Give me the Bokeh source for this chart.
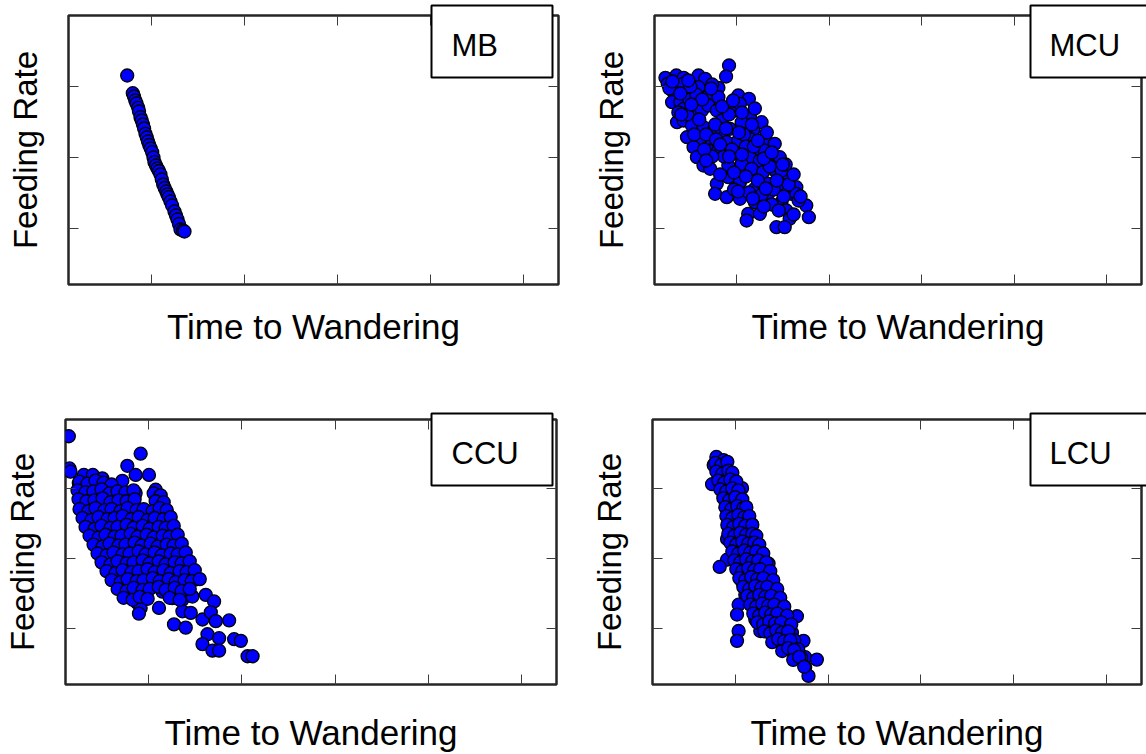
from bokeh.plotting import figure
from bokeh.models import Range1d, FixedTicker, LinearAxis, GridBox, ColumnDataSource
from bokeh.core.properties import value
from bokeh.embed import file_html
from bokeh.resources import INLINE

FONT = "Liberation Sans"

# shared axis extents; tick marks are drawn without labels
time_limits = (0, 490)
feed_limits = (0, 269)
time_ticks = [83, 176, 269, 362, 455]
feed_ticks = [56.5, 127.5, 198.5]

x_title = "Time to Wandering"
y_title = "Feeding Rate"
panel_names = ["MB", "MCU", "CCU", "LCU"]

# ---- MB ----
mb_time = [58.7, 64.3, 65.5, 66.8, 68.0, 69.7, 70.5, 72.0, 73.2, 74.5,
           75.6, 77.0, 78.3, 79.5, 80.8, 82.2, 83.7, 85.0, 86.0, 87.5,
           89.0, 90.5, 92.0, 93.3, 94.7, 96.2, 97.8, 99.0, 100.3, 102.0,
           103.6, 106.0, 107.5, 109.0, 110.5, 112.0, 114.5, 116.0]
mb_feed = [209.0, 191.3, 188.0, 184.0, 181.0, 176.7, 173.0, 167.3, 164.0, 160.0,
           156.0, 150.7, 147.0, 143.0, 139.5, 136.0, 132.3, 127.0, 122.3, 119.0,
           116.0, 113.5, 110.0, 105.0, 100.0, 96.5, 93.0, 90.0, 87.3, 83.0,
           79.0, 73.0, 69.0, 65.0, 60.5, 55.0, 54.0, 53.0]

# ---- MCU ----
mcu_time = [11.0, 13.3, 22.0, 29.3, 44.3, 51.0, 75.0, 72.0, 19.3, 28.3,
            44.3, 54.3, 64.3, 64.3, 84.3, 95.0, 17.7, 26.0, 29.3, 39.3,
            47.7, 54.3, 62.7, 81.0, 86.0, 96.0, 107.7, 22.7, 29.3, 37.7,
            49.3, 67.7, 76.0, 87.7, 99.3, 111.0, 32.7, 46.0, 57.7, 67.7,
            72.7, 84.3, 96.0, 104.3, 111.0, 121.0, 39.3, 42.7, 54.3, 64.3,
            82.7, 96.0, 106.0, 119.3, 126.0, 49.3, 56.0, 74.3, 87.7, 97.7,
            109.3, 122.7, 134.3, 62.7, 74.3, 86.0, 101.0, 114.3, 126.0, 142.7,
            137.7, 61.0, 72.7, 86.0, 101.0, 114.3, 127.7, 142.7, 94.3, 106.0,
            132.7, 136.0, 152.7, 155.3, 92.7, 122.7, 131.0,
            35.0, 42.0, 58.0, 33.0, 45.0, 60.0, 40.0, 52.0, 62.0, 75.0,
            78.0, 70.0, 90.0, 92.0, 100.0, 58.0, 80.0, 92.0, 104.0, 116.0,
            110.0, 128.0, 132.0, 80.0, 95.0, 108.0, 120.0, 135.0, 145.0, 118.0,
            110.0, 125.0, 140.0, 66.0, 50.0, 24.0, 15.0, 36.0,
            18.0, 26.0, 34.0, 48.0, 57.0, 68.0, 79.0, 88.0, 101.0, 113.0,
            27.0, 37.0, 61.0, 72.0, 85.0, 98.0, 118.0, 129.0, 140.0, 104.0,
            88.0, 75.0, 66.0, 52.0, 123.0, 112.0, 99.0, 84.0, 147.0, 130.0]
mcu_feed = [206.7, 200.7, 209.0, 206.7, 209.0, 205.7, 219.0, 208.0, 192.3, 200.7,
            197.3, 188.3, 196.7, 187.3, 189.0, 185.7, 182.3, 182.3, 175.7, 174.0,
            174.0, 179.0, 174.0, 174.0, 180.7, 167.3, 162.3, 162.3, 164.0, 159.0,
            157.3, 164.0, 155.7, 162.3, 154.0, 145.7, 147.3, 145.7, 140.7, 150.7,
            142.3, 144.0, 145.7, 134.0, 134.0, 140.7, 137.3, 127.3, 134.0, 134.0,
            130.7, 127.3, 124.0, 122.3, 127.3, 119.0, 115.7, 119.0, 120.7, 115.7,
            112.3, 112.3, 107.3, 100.7, 107.3, 102.3, 95.7, 100.7, 100.7, 97.3,
            90.7, 90.7, 87.3, 85.7, 82.3, 90.7, 82.3, 90.7, 70.7, 70.7,
            74.0, 65.7, 79.0, 67.3, 64.0, 57.3, 57.3,
            185.0, 190.0, 200.0, 170.0, 165.0, 155.0, 150.0, 150.0, 145.0, 170.0,
            135.0, 128.0, 150.0, 138.0, 138.0, 128.0, 112.0, 108.0, 104.0, 118.0,
            126.0, 114.0, 120.0, 95.0, 92.0, 90.0, 95.0, 100.0, 84.0, 80.0,
            78.0, 74.0, 70.0, 110.0, 135.0, 172.0, 196.0, 198.0,
            203.0, 191.0, 204.0, 185.0, 196.0, 178.0, 184.0, 172.0, 176.0, 152.0,
            170.0, 180.0, 160.0, 156.0, 152.0, 160.0, 132.0, 120.0, 110.0, 144.0,
            130.0, 128.0, 140.0, 124.0, 104.0, 96.0, 86.0, 93.0, 88.0, 88.0]

# ---- CCU ----
ccu_time = [3.3, 4.0, 5.0, 75.0, 61.7, 18.3, 27.3, 36.7, 13.3, 56.7,
            70.0, 83.3, 90.0, 70.0, 65.0, 93.3, 96.7, 105.0, 110.0, 116.7,
            121.7, 130.0, 66.7, 78.3, 96.7, 106.7, 116.7, 126.7, 140.0, 148.3,
            71.7, 75.0, 73.3, 93.3, 116.7, 125.0, 136.7, 145.0, 150.0, 163.3,
            108.3, 120.0, 141.7, 153.3, 168.3, 175.0, 136.7, 146.7, 153.3, 181.7,
            186.7,
            14, 22, 30, 38, 46,
            12, 20, 28, 36, 44, 52, 60, 68, 88, 95,
            13, 21, 29, 37, 45, 53, 61, 69, 90, 98,
            14, 23, 30, 39, 46, 55, 62, 71, 78, 87, 94, 101,
            17, 26, 33, 42, 49, 57, 66, 73, 82, 89, 98, 105,
            20, 29, 36, 45, 52, 61, 68, 77, 84, 93, 100, 108,
            24, 33, 40, 49, 56, 65, 72, 81, 88, 97, 104, 112,
            28, 37, 44, 53, 60, 69, 76, 85, 92, 101, 108, 116,
            32, 41, 48, 57, 64, 73, 80, 89, 96, 105, 112, 120,
            36, 45, 52, 61, 68, 77, 84, 93, 100, 109, 116, 124,
            41, 50, 57, 66, 73, 82, 89, 98, 105, 114, 121, 129,
            46, 55, 62, 71, 78, 87, 94, 103, 110, 119, 126, 134,
            52, 61, 68, 77, 84, 93, 100, 109, 116, 124,
            58, 67, 74, 82, 104, 114]
ccu_feed = [252.0, 219.3, 216.0, 234.3, 222.0, 212.7, 212.7, 209.3, 204.3, 206.7,
            212.7, 212.7, 197.7, 194.3, 184.3, 186.0, 167.7, 157.7, 147.7, 136.0,
            119.3, 106.7, 92.7, 94.3, 94.3, 87.7, 86.0, 89.3, 91.0, 84.3,
            82.7, 77.7, 72.0, 77.7, 74.3, 72.7, 66.0, 73.3, 64.3, 65.0,
            61.0, 57.7, 51.0, 47.0, 46.0, 44.3, 41.0, 34.3, 34.3, 28.7,
            28.7,
            206, 204, 207, 205, 203,
            197, 195, 196, 198, 194, 196, 195, 197, 194, 192,
            188, 186, 187, 189, 185, 187, 186, 188, 186, 185,
            178, 176, 179, 177, 178, 176, 179, 177, 178, 176, 179, 177,
            169, 167, 170, 168, 169, 171, 168, 170, 167, 169, 168, 170,
            160, 158, 161, 159, 160, 162, 159, 161, 158, 160, 159, 161,
            151, 149, 152, 150, 151, 153, 150, 152, 149, 151, 150, 152,
            142, 140, 143, 141, 142, 144, 141, 143, 140, 142, 141, 143,
            133, 131, 134, 132, 133, 135, 132, 134, 131, 133, 132, 134,
            124, 122, 125, 123, 124, 126, 123, 125, 122, 124, 123, 125,
            115, 113, 116, 114, 115, 117, 114, 116, 113, 115, 114, 116,
            106, 104, 107, 105, 106, 108, 105, 107, 104, 106, 105, 107,
            97, 95, 98, 96, 97, 99, 96, 98, 95, 97,
            88, 86, 89, 87, 88, 86]

# ---- LCU ----
lcu_time = [64.0, 71.3, 61.3, 68.0, 59.7, 77.3, 81.3, 89.7, 71.3, 74.7,
            80.7, 91.3, 99.7, 76.3, 91.3, 74.7, 103.0, 98.0, 74.7, 67.3,
            84.7, 116.3, 108.0, 89.7, 121.3, 93.0, 114.7, 129.7, 86.3, 84.7,
            103.0, 118.0, 136.3, 144.7, 108.0, 129.7, 86.3, 84.7, 139.7, 151.3,
            133.0, 141.3, 153.0, 164.7, 153.0, 156.3,
            63, 69, 75,
            64, 70, 76, 80,
            66, 72, 78, 84,
            68, 74, 80, 86,
            71, 77, 83, 90,
            73, 79, 85, 91, 94,
            74, 80, 86, 92, 97,
            75, 81, 87, 93, 100,
            76, 82, 88, 94, 100, 104,
            78, 84, 90, 96, 102, 107,
            80, 86, 92, 98, 104, 111,
            82, 88, 94, 100, 106, 114,
            84, 90, 96, 102, 108, 118,
            87, 93, 99, 105, 111, 121,
            91, 97, 103, 109, 115, 125,
            95, 101, 107, 113, 119, 128,
            98, 104, 110, 116, 122, 132,
            101, 107, 113, 119, 125, 135,
            105, 111, 117, 123, 129, 139,
            112, 118, 124, 130, 136, 142,
            120, 126, 132, 138, 146,
            130, 136, 142, 149,
            141, 147, 152,
            153]
lcu_feed = [231.0, 227.7, 222.7, 212.7, 203.3, 208.7, 196.0, 199.3, 192.7, 184.3,
            176.0, 169.3, 162.7, 159.3, 151.0, 147.7, 146.0, 129.3, 126.7, 119.3,
            122.7, 122.7, 106.0, 104.3, 99.3, 91.0, 87.7, 81.0, 81.0, 71.0,
            66.0, 66.0, 64.3, 69.3, 54.3, 56.7, 54.3, 44.3, 52.7, 44.3,
            39.3, 32.7, 27.7, 25.3, 17.7, 8.7,
            225, 223, 226,
            216, 214, 217, 215,
            207, 205, 208, 206,
            198, 196, 199, 197,
            189, 187, 190, 188,
            180, 178, 181, 179, 180,
            171, 169, 172, 170, 171,
            162, 160, 163, 161, 162,
            153, 151, 154, 152, 153, 151,
            144, 142, 145, 143, 144, 142,
            135, 133, 136, 134, 135, 133,
            126, 124, 127, 125, 126, 124,
            117, 115, 118, 116, 117, 115,
            108, 106, 109, 107, 108, 106,
            99, 97, 100, 98, 99, 97,
            90, 88, 91, 89, 90, 88,
            81, 79, 82, 80, 81, 79,
            72, 70, 73, 71, 72, 70,
            63, 61, 64, 62, 63, 61,
            54, 52, 55, 53, 54,
            45, 43, 46, 44, 45,
            36, 34, 37, 35,
            27, 25, 28,
            18]

# page-level placement of the boxed panel tags (pixels from the top-left)
tag_left = [431, 1030, 431, 1030]
tag_right = [552, 1170, 552, 1170]
tag_top = [5, 5, 413, 413]
tag_bottom = [77, 77, 485, 485]
tag_text_x = [451, 1049, 451, 1049]
tag_text_y = [45, 45, 453, 453]

PAGE_W, PAGE_H = 1146, 754


def style_axis(ax, ticks):
    ax.ticker = FixedTicker(ticks=ticks)
    ax.major_tick_in = 10
    ax.major_tick_out = 0
    ax.minor_tick_line_color = None
    ax.major_tick_line_color = "#3c3c3c"
    ax.major_tick_line_width = 1
    ax.axis_line_color = None
    ax.major_label_text_font_size = "0px"
    ax.major_label_standoff = 0
    ax.major_label_overrides = {t: "" for t in ticks}


def make_panel(xs, ys, width, height, borders, xlab_standoff):
    left, right, top, bottom = borders
    p = figure(width=width, height=height,
               x_range=Range1d(*time_limits), y_range=Range1d(*feed_limits),
               min_border_left=left, min_border_right=right,
               min_border_top=top, min_border_bottom=bottom,
               output_backend="svg", toolbar_location=None)
    p.frame_align = False
    p.grid.visible = False
    p.background_fill_color = "white"
    p.border_fill_color = "white"
    p.outline_line_color = "#262626"
    p.outline_line_width = 2.5

    p.add_layout(LinearAxis(), "above")
    p.add_layout(LinearAxis(), "right")
    for ax in p.xaxis:
        style_axis(ax, time_ticks)
    for ax in p.yaxis:
        style_axis(ax, feed_ticks)

    bottom_axis = p.below[0]
    left_axis = p.left[0]
    bottom_axis.axis_label = x_title
    left_axis.axis_label = y_title
    for ax, standoff, size in ((bottom_axis, xlab_standoff, "35px"),
                               (left_axis, 25, "33px")):
        ax.axis_label_text_font = FONT
        ax.axis_label_text_font_size = size
        ax.axis_label_text_font_style = "normal"
        ax.axis_label_text_color = "black"
        ax.axis_label_standoff = standoff

    p.scatter(xs, ys, size=13, fill_color="#0000ff", line_color="black",
              line_width=1.3)
    return p


p_mb = make_panel(mb_time, mb_feed, 587, 380, (68, 29, 15, 96), 22)
p_mcu = make_panel(mcu_time, mcu_feed, 559, 380, (67, 5, 15, 96), 22)
p_ccu = make_panel(ccu_time, ccu_feed, 587, 374, (65, 31, 39, 68), 28)
p_lcu = make_panel(lcu_time, lcu_feed, 559, 374, (65, 5, 39, 68), 28)

# transparent page-sized layer carrying the boxed tags, so each box may
# overhang its panel's frame
tags = figure(width=PAGE_W, height=PAGE_H,
              x_range=Range1d(0, PAGE_W), y_range=Range1d(PAGE_H, 0),
              x_axis_location=None, y_axis_location=None,
              min_border=0, output_backend="svg", toolbar_location=None)
tags.frame_align = False
tags.grid.visible = False
tags.outline_line_color = None
tags.background_fill_alpha = 0
tags.border_fill_alpha = 0
src = ColumnDataSource(dict(left=tag_left, right=tag_right, top=tag_top,
                            bottom=tag_bottom, tx=tag_text_x, ty=tag_text_y,
                            name=panel_names))
tags.quad(left="left", right="right", top="top", bottom="bottom", source=src,
          fill_color="white", line_color="black", line_width=2)
tags.text(x="tx", y="ty", text="name", source=src, text_font=value(FONT),
          text_font_size=value("31px"), text_color="black",
          text_align="left", text_baseline="alphabetic")

layout = GridBox(children=[(p_mb, 0, 0), (p_mcu, 0, 1),
                           (p_ccu, 1, 0), (p_lcu, 1, 1),
                           (tags, 0, 0, 2, 2)])

with open("out.html", "w") as f:
    f.write(file_html(layout, INLINE))
